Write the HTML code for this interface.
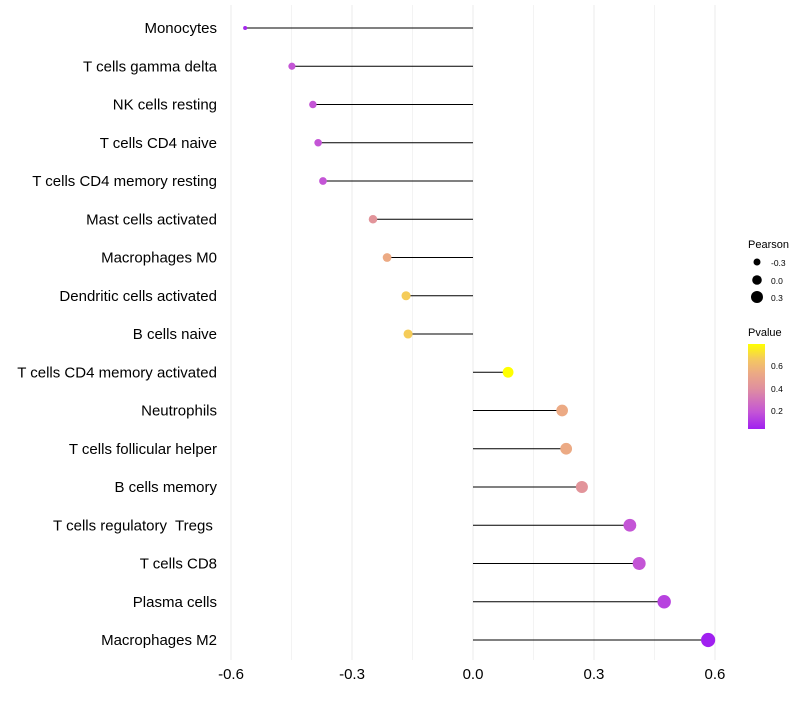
<!DOCTYPE html>
<html><head><meta charset="utf-8"><style>
body{margin:0;background:#fff;font-family:"Liberation Sans",sans-serif}
text{white-space:pre}
</style></head><body>
<svg id="c" width="800" height="700" xmlns="http://www.w3.org/2000/svg">
<defs><linearGradient id="pg" x1="0" y1="1" x2="0" y2="0">
<stop offset="0" stop-color="#A020F0"/><stop offset="0.2" stop-color="#C455D6"/><stop offset="0.48" stop-color="#E0909E"/><stop offset="0.66" stop-color="#ECAA84"/><stop offset="0.82" stop-color="#F4C860"/><stop offset="1" stop-color="#FFFF00"/></linearGradient></defs>
<g id="grid"></g><g id="marks"></g><g id="labels"></g>
<g font-size="11">
<text x="748" y="248">Pearson</text>
<circle cx="757" cy="262" r="3.5" fill="#000"/>
<circle cx="757" cy="280" r="4.8" fill="#000"/>
<circle cx="757" cy="297" r="6" fill="#000"/>
<text x="771" y="266" font-size="8.5">-0.3</text><text x="771" y="284" font-size="8.5">0.0</text><text x="771" y="301" font-size="8.5">0.3</text>
<text x="748" y="336">Pvalue</text>
<rect x="748" y="344" width="17" height="85" fill="url(#pg)"/>
<text x="771" y="369" font-size="8.5">0.6</text><text x="771" y="392" font-size="8.5">0.4</text><text x="771" y="414" font-size="8.5">0.2</text>
</g>
</svg>
<script>
const cells=["Monocytes","T cells gamma delta","NK cells resting","T cells CD4 naive","T cells CD4 memory resting","Mast cells activated","Macrophages M0","Dendritic cells activated","B cells naive","T cells CD4 memory activated","Neutrophils","T cells follicular helper","B cells memory","T cells regulatory  Tregs ","T cells CD8","Plasma cells","Macrophages M2"];
const pearson=[-0.565,-0.449,-0.397,-0.384,-0.372,-0.248,-0.213,-0.166,-0.161,0.087,0.221,0.231,0.270,0.389,0.412,0.474,0.583];
const pvalue=[0.08,0.2,0.2,0.2,0.2,0.42,0.52,0.64,0.64,0.76,0.52,0.52,0.42,0.2,0.2,0.15,0.06];
const ticks=[-0.6,-0.3,0,0.3,0.6];
const NS="http://www.w3.org/2000/svg";
const x=v=>473+v*403.3, y=i=>28+i*38.25;
const r=v=>{const base=5.1+3.4*v;return v<-0.5?Math.max(2,base-(-0.5-v)*18):base};
const stops=[[0.06,[160,32,240]],[0.2,[196,85,214]],[0.4,[224,144,158]],[0.52,[236,170,132]],[0.63,[244,200,96]],[0.76,[255,255,0]]];
function col(p){if(p<=stops[0][0])return"rgb(160,32,240)";for(let k=1;k<stops.length;k++){if(p<=stops[k][0]){const [p0,a]=stops[k-1],[p1,b]=stops[k];const u=(p-p0)/(p1-p0);return`rgb(${a.map((c,j)=>Math.round(c+(b[j]-c)*u)).join(",")})`}}return"rgb(255,255,0)"}
function mk(tag,at,par){const el=document.createElementNS(NS,tag);for(const k in at)el.setAttribute(k,at[k]);document.getElementById(par).appendChild(el);return el}
for(let v=-0.6;v<=0.61;v+=0.15){const g=mk("line",{x1:x(v),x2:x(v),y1:5,y2:660,stroke:"#ebebeb","stroke-width":Math.abs(Math.round(v/0.15))%2?0.6:1},"grid");

}
ticks.forEach(t=>{const el=mk("text",{x:x(t),y:679,"text-anchor":"middle","font-size":"15",fill:"#000"},"labels");el.textContent=t.toFixed(1);

});
cells.forEach((c,i)=>{
const t=mk("text",{x:217,y:y(i)+5,"text-anchor":"end","font-size":"15",fill:"#000"},"labels");t.textContent=c;


const l=mk("line",{x1:x(0),x2:x(pearson[i]),y1:y(i),y2:y(i),stroke:"#000","stroke-width":1.1},"marks");


const d=mk("circle",{cx:x(pearson[i]),cy:y(i),r:r(pearson[i]),fill:col(pvalue[i])},"marks");


});
</script>
</body></html>
